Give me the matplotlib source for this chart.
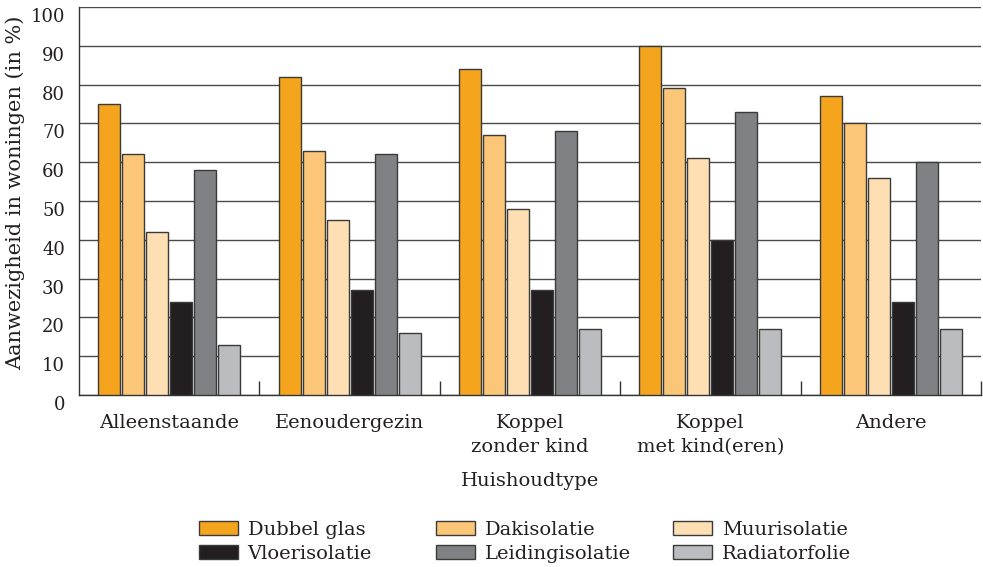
import numpy as np
import matplotlib
matplotlib.use("Agg")
import matplotlib.pyplot as plt
from matplotlib.transforms import ScaledTranslation

# household types on the x axis
categories = ["Alleenstaande", "Eenoudergezin", "Koppel\nzonder kind",
              "Koppel\nmet kind(eren)", "Andere"]

# presence of each measure in homes (%)
series = ["Dubbel glas", "Dakisolatie", "Muurisolatie",
          "Vloerisolatie", "Leidingisolatie", "Radiatorfolie"]
dubbel_glas = [75, 82, 84, 90, 77]
dakisolatie = [62, 63, 67, 79, 70]
muurisolatie = [42, 45, 48, 61, 56]
vloerisolatie = [24, 27, 27, 40, 24]
leidingisolatie = [58, 62, 68, 73, 60]
radiatorfolie = [13, 16, 17, 17, 17]
values = [dubbel_glas, dakisolatie, muurisolatie,
          vloerisolatie, leidingisolatie, radiatorfolie]

colors = ["#F5A41E", "#FBC678", "#FDDFB3", "#231F20", "#808184", "#BBBCBF"]

plt.rcParams['font.family'] = ['DejaVu Serif']
txt = "#231F20"
fs = 14

fig = plt.figure(figsize=(9.83, 5.67), dpi=100)
ax = fig.add_axes([79/983, 1 - 395/567, 902/983, 388/567])

x = np.arange(len(categories))
step = 0.133
width = 0.122
handles = {}
for i, (name, vals, c) in enumerate(zip(series, values, colors)):
    off = (i - 2.5) * step
    bars = ax.bar(x + off, vals, width, color=c, edgecolor="#3a3a3a",
                  linewidth=1.0, zorder=3, label=name)
    handles[name] = bars

ax.set_xlim(-0.5, 4.5)
ax.set_ylim(0, 100)
ax.set_yticks(range(0, 101, 10))
ax.yaxis.grid(True, color="#4a4a4a", linewidth=1.0, zorder=0)
ax.set_axisbelow(True)

for s in ["top", "right"]:
    ax.spines[s].set_visible(False)
for s in ["left", "bottom"]:
    ax.spines[s].set_color("#333333")
    ax.spines[s].set_linewidth(1.0)

ax.set_xticks(x)
ax.set_xticklabels(categories, fontsize=fs, color=txt, linespacing=1.38)
ax.set_xticks(np.arange(0.5, 5, 1), minor=True)
ax.tick_params(axis="x", which="major", length=0, pad=14)
ax.tick_params(axis="x", which="minor", direction="in", length=10,
               width=1.0, color="#333333")
ax.tick_params(axis="y", length=0, pad=10, labelsize=13, labelcolor=txt)
for lab in ax.get_yticklabels():
    lab.set_transform(lab.get_transform() +
                      ScaledTranslation(0, -8/100, fig.dpi_scale_trans))

ax.set_ylabel("Aanwezigheid in woningen (in %)", fontsize=15, color=txt)
ax.yaxis.set_label_coords(-0.06, 0.52)
ax.set_xlabel("Huishoudtype", fontsize=fs, color=txt, labelpad=12)

# legend: three columns of two entries, placed one by one
legend_cols = [["Dubbel glas", "Vloerisolatie"],
               ["Dakisolatie", "Leidingisolatie"],
               ["Muurisolatie", "Radiatorfolie"]]
col_x = [199, 436, 673]
for names, px in zip(legend_cols, col_x):
    leg = fig.legend([handles[n] for n in names], names,
                     loc="upper left", bbox_to_anchor=(px / 983, 1 - 521 / 567),
                     frameon=False, fontsize=fs, borderpad=0, borderaxespad=0,
                     handlelength=2.0, handleheight=0.72, handletextpad=0.5,
                     labelspacing=0.3)
    for t in leg.get_texts():
        t.set_color(txt)

fig.savefig("out.png", dpi=100)
